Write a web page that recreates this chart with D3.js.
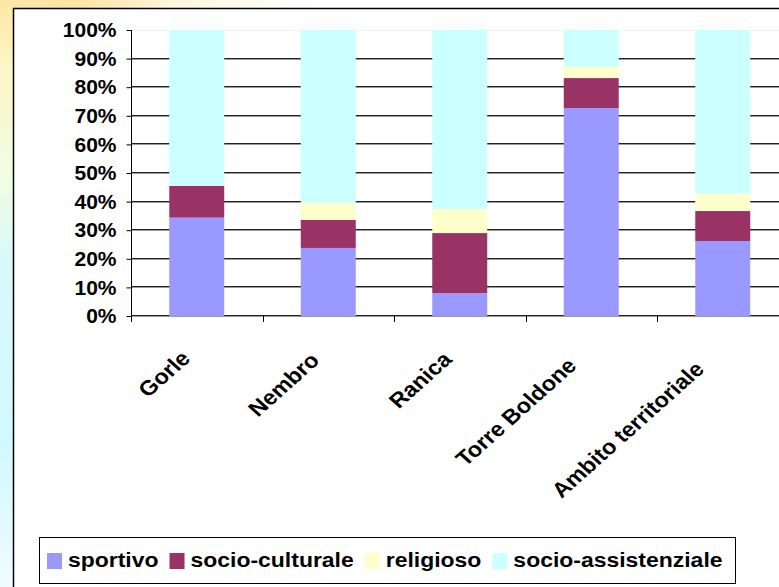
<!DOCTYPE html>
<html>
<head>
<meta charset="utf-8">
<script src="https://cdn.jsdelivr.net/npm/d3@7"></script>
<style>
  body { margin: 0; background: #fff; }
  text { font-family: "Liberation Sans", Arial, sans-serif; font-weight: bold; fill: #000; }
</style>
</head>
<body>
<div id="app"></div>
<script>
const W = 779, H = 587
const SX = 1.12 // the slide is stretched horizontally a bit

// data (percent of each category)
const categories = ['Gorle', 'Nembro', 'Ranica', 'Torre Boldone', 'Ambito territoriale']
const seriesNames = ['sportivo', 'socio-culturale', 'religioso', 'socio-assistenziale']
const sportivo = [34.4, 23.8, 8.0, 72.7, 26.2]
const socioCulturale = [11.1, 9.8, 21.0, 10.5, 10.5]
const religioso = [0, 5.9, 8.4, 3.9, 6.1]
const socioAssistenziale = [54.5, 60.5, 62.6, 12.9, 57.2]
const yTicks = [0, 10, 20, 30, 40, 50, 60, 70, 80, 90, 100]

const colors = ['#9999ff', '#993366', '#ffffcc', '#ccffff']

const table = categories.map((c, i) => ({
  cat: c,
  'sportivo': sportivo[i],
  'socio-culturale': socioCulturale[i],
  'religioso': religioso[i],
  'socio-assistenziale': socioAssistenziale[i]
}))

const svg = d3.select('#app').append('svg')
  .attr('width', W)
  .attr('height', H)

// decorative slide background behind the chart frame
const defs = svg.append('defs')
const gl = defs.append('linearGradient').attr('id', 'gLeft')
  .attr('x1', 0).attr('y1', 0).attr('x2', 0).attr('y2', 1)
gl.append('stop').attr('offset', '0%').attr('stop-color', '#fde7a6')
gl.append('stop').attr('offset', '12%').attr('stop-color', '#fdf6c8')
gl.append('stop').attr('offset', '30%').attr('stop-color', '#f1fde2')
gl.append('stop').attr('offset', '45%').attr('stop-color', '#d6f9fb')
gl.append('stop').attr('offset', '75%').attr('stop-color', '#d2f8ff')
gl.append('stop').attr('offset', '100%').attr('stop-color', '#effcff')
const gt = defs.append('linearGradient').attr('id', 'gTop')
gt.append('stop').attr('offset', '0%').attr('stop-color', '#fde7a6')
gt.append('stop').attr('offset', '10%').attr('stop-color', '#fde3a4')
gt.append('stop').attr('offset', '22%').attr('stop-color', '#fff6dc')
gt.append('stop').attr('offset', '40%').attr('stop-color', '#ffffff')

svg.append('rect').attr('width', W).attr('height', 9).attr('fill', 'url(#gTop)')
svg.append('rect').attr('width', 13).attr('height', H).attr('fill', 'url(#gLeft)')

// chart frame (runs off the right and bottom edges)
svg.append('rect')
  .attr('x', 13.5).attr('y', 8.5)
  .attr('width', W + 20).attr('height', H + 20)
  .attr('fill', '#fff')
  .attr('stroke', '#000')
  .attr('stroke-width', 1.5)

const x = d3.scaleBand()
  .domain(categories)
  .range([131, 788.5])
  .paddingInner(0.582)
  .paddingOuter(0.291)

const y = d3.scaleLinear()
  .domain([0, 100])
  .range([316, 30])

// gridlines
const grid = svg.append('g')
yTicks.forEach(t => {
  const yy = Math.round(y(t))
  if (t === 100) {
    grid.append('line').attr('x1', 131).attr('x2', W).attr('y1', yy + 0.5).attr('y2', yy + 0.5)
      .attr('stroke', '#f2f2f2')
    return
  }
  grid.append('line').attr('x1', 131).attr('x2', W).attr('y1', yy - 0.5).attr('y2', yy - 0.5)
    .attr('stroke', '#222')
  grid.append('line').attr('x1', 131).attr('x2', W).attr('y1', yy + 0.5).attr('y2', yy + 0.5)
    .attr('stroke', '#9a9a9a')
})

const stack = d3.stack().keys(seriesNames)
const layers = stack(table)

svg.append('g').selectAll('g')
  .data(layers)
  .join('g')
  .attr('fill', (d, i) => colors[i])
  .selectAll('rect')
  .data(d => d)
  .join('rect')
  .attr('x', d => x(d.data.cat))
  .attr('width', x.bandwidth())
  .attr('y', d => y(d[1]))
  .attr('height', d => y(d[0]) - y(d[1]))

// y axis
const yAxis = d3.axisLeft(y)
  .tickValues(yTicks)
  .tickFormat(d => d + '%')
  .tickSize(5)
  .tickPadding(10)

const ya = svg.append('g')
  .attr('transform', 'translate(131.5,0)')
  .call(yAxis)
ya.select('.domain').remove()
ya.append('line').attr('x1', 0).attr('x2', 0).attr('y1', 30).attr('y2', 322).attr('stroke', '#000')
ya.selectAll('.tick line').attr('stroke', '#000')
ya.selectAll('.tick text')
  .style('font-size', '21px')
  .attr('fill', '#000')

// category separators below the baseline
const step = x.step()
const sepX = d3.range(categories.length + 1).map(i => 131 + i * step)
svg.append('g').selectAll('line')
  .data(sepX)
  .join('line')
  .attr('x1', d => Math.round(d) + 0.5)
  .attr('x2', d => Math.round(d) + 0.5)
  .attr('y1', 316)
  .attr('y2', 322)
  .attr('stroke', '#000')

// rotated category labels
svg.append('g').selectAll('text')
  .data(categories)
  .join('text')
  .attr('transform', d => 'translate(' + (x(d) + x.bandwidth() / 2) + ',355) scale(' + SX + ',1) rotate(-45)')
  .attr('text-anchor', 'end')
  .style('font-size', '21px')
  .text(d => d)
  .each(function () {
    const len = this.getComputedTextLength()
    d3.select(this).attr('dx', -0.12 * len)
  })

// legend
const legend = svg.append('g')
legend.append('rect')
  .attr('x', 39.5).attr('y', 537.5)
  .attr('width', 696).attr('height', 46)
  .attr('fill', '#fff')
  .attr('stroke', '#000')

let lx = 47
seriesNames.forEach((name, i) => {
  legend.append('rect')
    .attr('x', lx).attr('y', 553)
    .attr('width', 15).attr('height', 16)
    .attr('fill', colors[i])
  const t = legend.append('text')
    .attr('transform', 'translate(' + (lx + 21) + ',567) scale(' + SX + ',1)')
    .style('font-size', '20.5px')
    .text(name)
  lx += 21 + t.node().getComputedTextLength() * SX + 11
})
</script>
</body>
</html>
